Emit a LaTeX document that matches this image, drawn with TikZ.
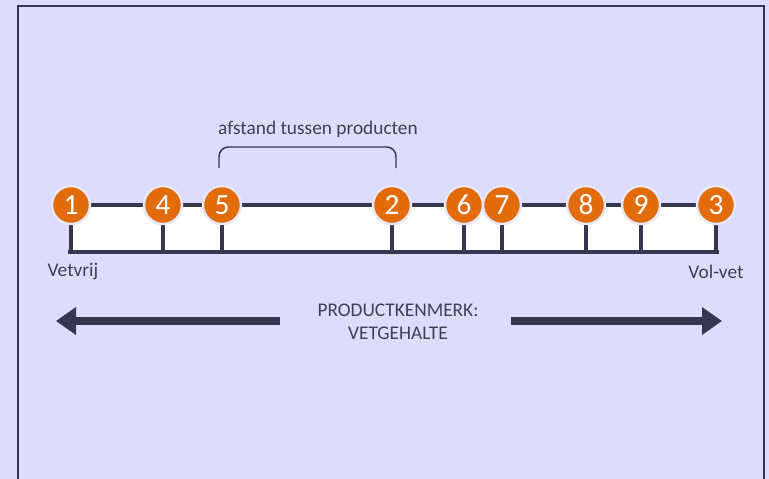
\documentclass[tikz,border=0pt]{standalone}
\usepackage{fontspec}
\setmainfont{Carlito}
\usetikzlibrary{arrows.meta}
\definecolor{bg}{RGB}{220,220,252}
\definecolor{ink}{RGB}{54,54,80}
\definecolor{dot}{RGB}{227,108,10}
\definecolor{halo}{RGB}{232,232,252}
\definecolor{txt}{RGB}{64,64,84}
\begin{document}
\begin{tikzpicture}[x=0.75pt, y=-0.75pt,
    prod/.style={circle, fill=dot, draw=halo, line width=1.8pt, minimum size=28.5pt,
      inner sep=0pt, text=white, font=\fontsize{22}{22}\selectfont},
    axis/.style={draw=ink, line width=3pt},
    lbl/.style={text=txt, font=\fontsize{14.5}{17.25}\selectfont, align=center}]
    \fill[bg] (0,0) rectangle (769,479);
    \useasboundingbox (0,0) rectangle (769,479);
    \draw[ink, line width=2.2pt] (18,482) -- (18,6) -- (764,6) -- (764,482);
    % scale
    \coordinate (b0) at (70,252);
    \coordinate (b1) at (717,252);
    \fill[white] (70,204) rectangle (b1);
    \foreach \n/\x in {1/71,4/163,5/222,2/392,6/464,7/502,8/586,9/641,3/716}
        \coordinate (c\n) at (\x,205);
    \draw[axis] (c1) -- (c3);
    \draw[axis, line cap=rect] (b0) -- (b1);
    \foreach \n in {1,4,5,2,6,7,8,9,3}
        \draw[axis] (c\n) -- (c\n |- b0);
    \foreach \n in {1,4,5,2,6,7,8,9,3}
        \node[prod] (p\n) at (c\n) {\n};
    \node[lbl] (vetvrij) at (73,272) {Vetvrij};
    \node[lbl] (volvet) at (716,272) {Vol-vet};
    % afstand
    \draw[ink, line width=1.1pt, rounded corners=7pt] (219,168) -- (219,147) -- (396,147) -- (396,168);
    \node[lbl] (afstand) at (318,129) {afstand tussen producten};
    % kenmerk
    \node[lbl] (kenmerk) at (398,322) {PRODUCTKENMERK:\\VETGEHALTE};
    \coordinate (linkspunt) at (56,321);
    \coordinate (rechtspunt) at (722,321);
    \draw[ink, line width=6pt, -{Triangle[length=15pt,width=20pt]}] (280,321) -- (linkspunt);
    \draw[ink, line width=6pt, -{Triangle[length=15pt,width=20pt]}] (511,321) -- (rechtspunt);
\end{tikzpicture}
\end{document}
